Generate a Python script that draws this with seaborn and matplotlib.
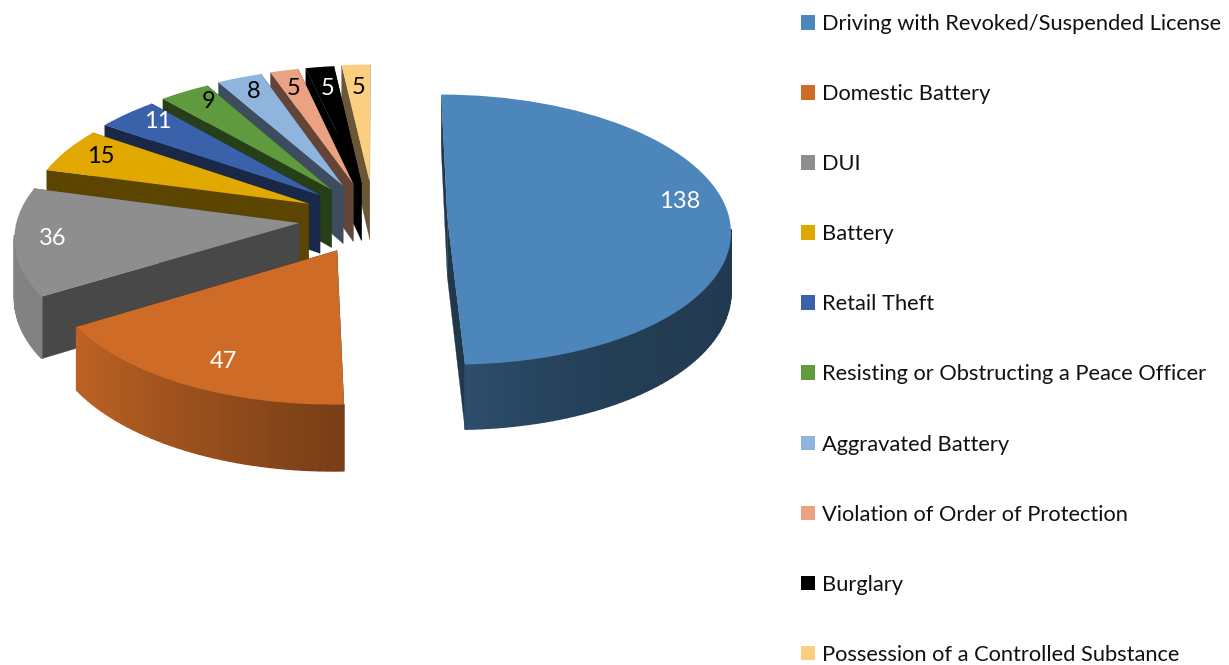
import numpy as np
import matplotlib
matplotlib.use("Agg")
import matplotlib.pyplot as plt
import matplotlib.transforms as mtransforms
from matplotlib.patches import Patch
import seaborn as sns

# ---- data ----
offenses = ["Driving with Revoked/Suspended License", "Domestic Battery", "DUI", "Battery",
            "Retail Theft", "Resisting or Obstructing a Peace Officer", "Aggravated Battery",
            "Violation of Order of Protection", "Burglary", "Possession of a Controlled Substance"]
counts = [138, 47, 36, 15, 11, 9, 8, 5, 5, 5]
slice_colors = ["#4d86ba", "#ce6b27", "#8e8e8e", "#e0a800", "#3a62ab",
                "#5f9a3e", "#8fb4dd", "#eba283", "#000000", "#fccf80"]
label_colors = ["white", "white", "white", "black", "white", "black", "black", "black", "white", "black"]

# ---- layout ----
START = 90.0
EXPLODE = [0.26, 0.27, 0.267, 0.258, 0.26, 0.265, 0.27, 0.272, 0.272, 0.277]
CX, CY, SX, SY, PERSP, DEPTH = 374.0, 218.0, 282.0, 134.0, 0.09, 59.0
LABEL_R = [0.844, 0.82, 0.866, 0.86, 0.868, 0.875, 0.862, 0.835, 0.805, 0.795]
LABEL_DA = [7.0, 2.4, -0.3, -0.6, -2.1, -1.9, -0.2, 0.3, 0.0, 0.0]
RADIAL_SHADE = [0.41, 0.42, 0.51, 0.41, 0.41, 0.41, 0.43, 0.42, 0.0, 0.42]
SHADE_ANGLE = [-360, -190, -143, -83, -60, 0]
SHADE_VALUE = [0.42, 0.95, 0.90, 0.55, 0.46, 0.42]

sns.set_theme(style="white")
plt.rcParams["font.family"] = ["Lato", "DejaVu Sans"]
palette = sns.color_palette(slice_colors)


def project(x, y, z=0.0):
    x, y = np.asarray(x, float), np.asarray(y, float)
    s = 1.0 / (1.0 + PERSP * y)
    return CX + SX * x * s, CY - SY * y * s + DEPTH * z * s


class PieProjection(mtransforms.Transform):
    input_dims = output_dims = 2
    is_separable = False
    has_inverse = False

    def transform_non_affine(self, values):
        values = np.asarray(values, float)
        px, py = project(values[:, 0], values[:, 1])
        return np.column_stack([px, py])


fig = plt.figure(figsize=(12.29, 6.65), dpi=100)
ax = fig.add_axes([0, 0, 1, 1])
wedges, _ = ax.pie(counts, explode=EXPLODE, startangle=START, counterclock=False,
                   colors=palette, radius=1.0, wedgeprops=dict(linewidth=0))
ax.set_aspect("auto")
ax.set_xlim(0, 1229)
ax.set_ylim(665, 0)
ax.axis("off")

proj = PieProjection()
for i, w in enumerate(wedges):
    base = 10 * (len(counts) - i) if i else 5
    w.set_transform(proj + ax.transData)
    w.set_zorder(base + 5)
    w.set_clip_on(False)
    cx0, cy0 = w.center
    color = np.array(palette[i])
    a1, a2 = w.theta1, w.theta2
    quads = []
    angs = np.linspace(a1, a2, int(max(2, (a2 - a1) / 1.5)) + 1)
    for b1, b2 in zip(angs[:-1], angs[1:]):
        mid = (b1 + b2) / 2
        if np.sin(np.radians(mid)) > -0.08:      # rear of the rim is hidden by the top
            continue
        xs = cx0 + np.cos(np.radians([b1, b2, b2, b1]))
        ys = cy0 + np.sin(np.radians([b1, b2, b2, b1]))
        m = mid if mid <= 0 else mid - 360
        shade = np.interp(m, SHADE_ANGLE, SHADE_VALUE)
        quads.append((ys.mean(), xs, ys, shade, 1.0))
    for ang in (a1, a2):
        xs = np.array([cx0, cx0 + np.cos(np.radians(ang)), cx0 + np.cos(np.radians(ang)), cx0])
        ys = np.array([cy0, cy0 + np.sin(np.radians(ang)), cy0 + np.sin(np.radians(ang)), cy0])
        quads.append((ys.mean(), xs, ys, RADIAL_SHADE[i], 0.2))
    quads.sort(key=lambda q: -q[0])
    for k, (_, xs, ys, shade, lw) in enumerate(quads):
        zs = np.array([0, 0, 1, 1])
        px, py = project(xs, ys, zs)
        ax.fill(px, py, color=color * shade, lw=lw, zorder=base + k * 0.001, clip_on=False)
    # value label, placed on the slice's own top surface
    mid = np.radians((a1 + a2) / 2 + LABEL_DA[i])
    px, py = project(cx0 + LABEL_R[i] * np.cos(mid), cy0 + LABEL_R[i] * np.sin(mid))
    ax.text(px, py, str(counts[i]), color=label_colors[i], fontsize=17, ha="center", va="center", zorder=300)

handles = [Patch(facecolor=c, edgecolor="none", label=n) for c, n in zip(palette, offenses)]
leg = ax.legend(handles=handles, loc="upper left", bbox_to_anchor=(801, 14), bbox_transform=ax.transData,
                frameon=False, fontsize=15.75, borderpad=0, borderaxespad=0, handlelength=0.65, handleheight=0.65,
                handletextpad=0.29, labelspacing=2.29, labelcolor="#111111")
fig.savefig("out.png", dpi=100, facecolor="white")
